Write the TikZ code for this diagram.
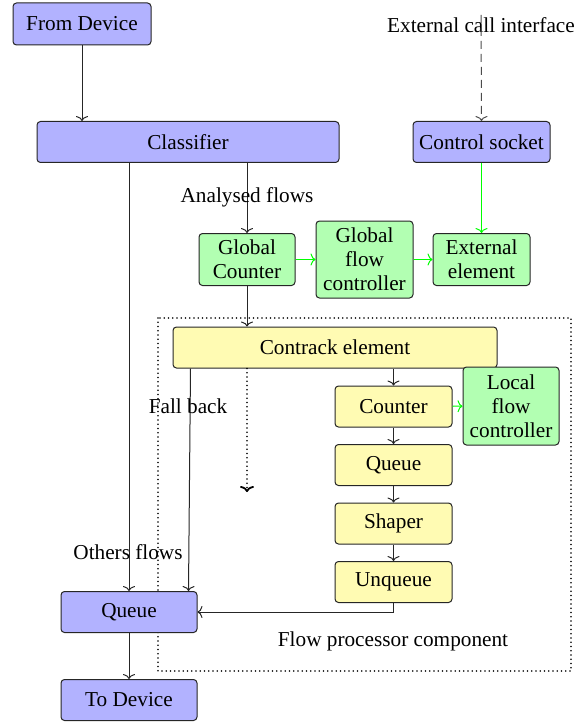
\documentclass[tikz,border=0pt]{standalone}
\usepackage{fontspec}
\setmainfont{Liberation Serif}
\newfontfamily\tnr{Liberation Serif}
\usetikzlibrary{arrows.meta}
\begin{document}
\begin{tikzpicture}[x=1pt,y=-1pt,
  font=\tnr\fontsize{21.25pt}{24pt}\selectfont,
  line width=1pt,
  >={To[length=5pt,width=12pt]},
  box/.style={draw=black!85, rounded corners=3.5pt, inner sep=0pt, align=center},
  bluebox/.style={box, fill=blue!30},
  greenbox/.style={box, fill=green!30},
  yellowbox/.style={box, fill=yellow!30},
  flow/.style={->, draw=black!85},
  gflow/.style={->, draw=green},
  lbl/.style={inner sep=2pt}]
\useasboundingbox (0,0) rectangle (585,722);

% dotted container
\draw[line width=1.8pt, line cap=round, dash pattern=on 0pt off 4.25pt] (158,318) rectangle (571,671);

% nodes
\node[bluebox, minimum width=138pt, minimum height=42pt] (from) at (82,24) {From Device};
\node[bluebox, minimum width=302pt, minimum height=41pt] (class) at (188,142) {Classifier};
\node[bluebox, minimum width=137pt, minimum height=41pt] (socket) at (481.5,142) {Control socket};
\node[lbl] (ext) at (481,25) {External call interface};

\node[greenbox, minimum width=96pt, minimum height=52pt] (gcount) at (247,259.5) {Global\\Counter};
\node[greenbox, minimum width=97pt, minimum height=77pt] (gfc) at (364.5,259.5) {Global\\flow\\controller};
\node[greenbox, minimum width=97pt, minimum height=52pt] (extel) at (481.5,259.5) {External\\element};

\node[yellowbox, minimum width=324pt, minimum height=41pt] (contrack) at (335,347.5) {Contrack element};
\node[yellowbox, minimum width=117pt, minimum height=41pt] (counter) at (393.5,406.5) {Counter};
\node[greenbox, minimum width=96pt, minimum height=78pt] (lfc) at (511,406) {Local\\flow\\controller};
\node[yellowbox, minimum width=117pt, minimum height=41pt] (yqueue) at (393.5,465) {Queue};
\node[yellowbox, minimum width=117pt, minimum height=41pt] (shaper) at (393.5,523.5) {Shaper};
\node[yellowbox, minimum width=117pt, minimum height=41pt] (unqueue) at (393.5,582) {Unqueue};

\node[bluebox, minimum width=136pt, minimum height=41pt] (queue) at (129,612) {Queue};
\node[bluebox, minimum width=136pt, minimum height=41pt] (todev) at (129,700) {To Device};

\coordinate (fbend) at (247,492);

% connectors
\draw[flow] (from) -- (from |- class.north);
\draw[flow, draw=black!70, dash pattern=on 8pt off 5pt] (ext.north) -- (socket.north);
\draw[gflow] (socket) -- (extel);
\draw[flow] (class.south -| gcount) -- (gcount);
\draw[gflow] (gcount) -- (gfc);
\draw[gflow] (gfc) -- (extel);
\draw[flow] (gcount) -- (gcount |- contrack.north);
\draw[flow] (contrack.south -| counter) -- (counter);
\draw[gflow] (counter) -- (lfc);
\draw[flow] (counter) -- (yqueue);
\draw[flow] (yqueue) -- (shaper);
\draw[flow] (shaper) -- (unqueue);
\draw[flow] (unqueue.south) |- (queue.east);
\draw[flow] (class.south -| queue) -- (queue);
\draw[flow] ([xshift=18pt]contrack.south west) -- ([xshift=-9pt]queue.north east);
\draw[-{To[length=6pt,width=14pt,line width=1.8pt]}, line width=1.8pt, line cap=round, dash pattern=on 0pt off 4.25pt] (contrack.south -| fbend) -- (fbend);
\draw[flow] (queue) -- (todev);

% labels
\node[lbl] (analysed) at (247,197) {Analysed flows};
\node[lbl] (fallback) at (188,406) {Fall back};
\node[lbl] (others) at (128,552) {Others flows};
\node[lbl] (fpc) at (393,641) {Flow processor component};
\end{tikzpicture}
\end{document}
